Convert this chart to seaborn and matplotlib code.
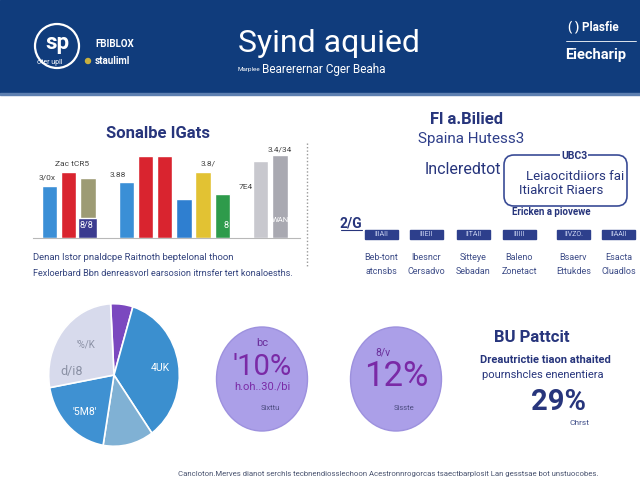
import matplotlib
matplotlib.use("Agg")
import matplotlib.pyplot as plt
from matplotlib.patches import Rectangle, Circle, Ellipse, FancyBboxPatch
import seaborn as sns

# ---- data ----
bar_cats = ["A1", "A2", "A3", "B1", "B2", "B3", "B4", "C1", "C2", "D1", "D2"]
bar_values = [52, 66, 60, 56, 82, 82, 39, 66, 44, 77, 83]
bar_colors = ["#3b8fd6", "#d9242f", "#9d9b74", "#3a8fd6", "#d9242f", "#d9242f",
              "#2f7fd0", "#e2c233", "#2e9b4b", "#c8c8ce", "#a9a9b1"]
bar_order = ["A1", "A2", "A3", "gap1", "B1", "B2", "B3", "B4", "C1", "C2", "gap2", "D1", "D2"]
bar_notes = ["3/0x", "Zac tCR5", "3.88", "3.8/", "7E4", "3.4/34"]
inset_cat = "A3"
inset_value = 20
inset_label = "8/8"

pie_values = [5.5, 35.5, 12.5, 19.5, 27]
pie_colors = ["#7b48bf", "#3b8fcf", "#80b1d4", "#3f91d2", "#d7daec"]
pie_labels = ["4UK", "'5M8'", "d/i8", "'%/K"]

stat_heads = ["bc", "8/v"]
stat_values = ["'10%", "12%"]
stat_subs = ["h.oh..30./bi", ""]
stat_feet = ["Sixttu", "Sisste"]

tag_names = ["IIIAII", "IIIEII", "IITAII", "IIIIII", "IIVZO.", "IIAAII"]
tag_line1 = ["Beb-tont", "Ibesncr", "Sitteye", "Baleno", "Bsaerv", "Esacta"]
tag_line2 = ["atcnsbs", "Cersadvo", "Sebadan", "Zonetact", "Ettukdes", "Cluadlos"]

NAVY = "#27357c"
HEADER = "#103c7c"

sns.set_theme(style="white")
plt.rcParams["font.family"] = ["Roboto", "DejaVu Sans"]

fig = plt.figure(figsize=(6.4, 4.8), dpi=100)
fig.patch.set_facecolor("white")

# ---- bar chart ----
bax = fig.add_axes([33 / 640, (480 - 238) / 480, 267 / 640, 98 / 480])
bax.patch.set_alpha(0)
sns.barplot(x=bar_cats, y=bar_values, hue=bar_cats, hue_order=bar_cats,
            palette=bar_colors, order=bar_order, width=0.8, saturation=1,
            legend=False, ax=bax)
sns.barplot(x=[inset_cat], y=[inset_value], order=bar_order, color="#3b3b8f",
            width=1.0, saturation=1, ax=bax)
bax.set_xlim(-0.86, 13.05)
bax.set_ylim(0, 98)
bax.set_xticks([])
bax.set_yticks([])
bax.set_xlabel("")
bax.set_ylabel("")
for s in ["top", "right", "left"]:
    bax.spines[s].set_visible(False)
bax.spines["bottom"].set_color("#b8b8b8")
bax.spines["bottom"].set_linewidth(0.8)

# ---- pie chart ----
pax = fig.add_axes([48 / 640, (480 - 447) / 480, 132 / 640, 144 / 480])
pax.pie(pie_values, colors=pie_colors, startangle=93, counterclock=False,
        wedgeprops=dict(edgecolor="white", linewidth=1.2))
pax.set_aspect("auto")
pax.set_xlim(-1.01, 1.01)
pax.set_ylim(-1.01, 1.01)

# ---- overlay in pixel coordinates ----
bg = fig.add_axes([0, 0, 1, 1], zorder=5)
bg.patch.set_alpha(0)
bg.set_xlim(0, 640)
bg.set_ylim(480, 0)
bg.axis("off")

# header band
bg.add_patch(Rectangle((0, 0), 640, 93, color=HEADER, zorder=0))
bg.add_patch(Rectangle((0, 93), 640, 2, color="#5d7fb0", zorder=0))
bg.add_patch(Circle((57, 46), 22, fill=False, edgecolor="white", lw=1.6))
bg.text(57, 43, "sp", color="white", fontsize=16, fontweight="bold", ha="center", va="center")
bg.text(50, 63, "oter upll", color="white", fontsize=5, ha="center", va="center")
bg.add_patch(Circle((88, 61), 2.5, color="#c8b040"))
bg.text(95, 44, "FBIBLOX", color="white", fontsize=7, fontweight="bold", va="center")
bg.text(95, 61, "stauliml", color="white", fontsize=7, fontweight="bold", va="center")
bg.text(329, 44, "Syind aquied", color="white", fontsize=23, ha="center", va="center")
bg.text(238, 69, "Marplee", color="white", fontsize=4.5, va="center")
bg.text(262, 69, "Bearerernar Cger Beaha", color="white", fontsize=8.5, va="center")
bg.text(568, 28, "( ) Plasfie", color="white", fontsize=8.5, fontweight="bold", va="center")
bg.plot([566, 636], [41, 41], color="white", lw=0.6)
bg.text(565, 55, "Eiecharip", color="white", fontsize=10.5, fontweight="bold", va="center")

# bar chart texts
bg.text(158, 134, "Sonalbe IGats", color=NAVY, fontsize=12, fontweight="bold", ha="center", va="center")
note_xy = [(47, 178), (72, 164), (118, 175), (208, 163), (246, 187), (280, 150)]
for (x, y), t in zip(note_xy, bar_notes):
    bg.text(x, y, t, color="#444444", fontsize=6, ha="center", va="center")
bg.text(86, 226, inset_label, color="white", fontsize=6.5, ha="center", va="center")
bg.text(226, 226, "8", color="white", fontsize=6.5, ha="center", va="center")
bg.text(280, 220, "WAN", color="white", fontsize=5.5, ha="center", va="center")
bg.plot([307, 307], [143, 268], color="#999999", lw=1, ls=(0, (1, 1.5)))
bg.text(33, 257, "Denan lstor pnaldcpe Raitnoth beptelonal thoon",
        color="#34447e", fontsize=6.8, va="center")
bg.text(33, 273, "Fexloerbard Bbn denreasvorl earsosion itrnsfer tert konaloesths.",
        color="#34447e", fontsize=6.6, va="center")

# right-top text block
bg.text(467, 120, "Fl a.Bilied", color=NAVY, fontsize=12, fontweight="bold", ha="center", va="center")
bg.text(471, 139, "Spaina Hutess3", color="#2f3f8a", fontsize=11, ha="center", va="center")
bg.text(463, 169, "Incleredtot", color=NAVY, fontsize=11.5, ha="center", va="center")
bg.add_patch(FancyBboxPatch((507, 158), 117, 45, boxstyle="round,pad=3,rounding_size=10",
                            fill=False, edgecolor="#3a4c96", lw=1.2))
bg.text(574, 156, "UBC3", color=NAVY, fontsize=7.5, fontweight="bold", ha="center", va="center",
        bbox=dict(facecolor="white", edgecolor="none", pad=0.5))
bg.text(575, 176, "Leiaocitdiiors fai", color=NAVY, fontsize=9.5, ha="center", va="center")
bg.text(561, 191, "Itiakrcit Riaers", color=NAVY, fontsize=9.5, ha="center", va="center")
bg.text(551, 212, "Ericken a piovewe", color=NAVY, fontsize=7, fontweight="bold", ha="center", va="center")
bg.text(351, 223, "2/G", color=NAVY, fontsize=10, fontweight="bold", ha="center", va="center")
bg.plot([341, 362], [230, 230], color=NAVY, lw=0.8)

tag_x = [365, 410, 457, 503, 557, 602]
for i, x in enumerate(tag_x):
    bg.add_patch(Rectangle((x, 230), 33, 9, color="#2d3f8c"))
    bg.text(x + 16.5, 234.5, tag_names[i], color="#c9d2f0", fontsize=5, ha="center", va="center")
    bg.text(x + 16.5, 258, tag_line1[i], color="#3e4d88", fontsize=6.5, ha="center", va="center")
    bg.text(x + 16.5, 272, tag_line2[i], color="#3e4d88", fontsize=6.5, ha="center", va="center")

# pie labels
pie_xy = [(160, 368), (85, 412), (72, 371), (86, 344)]
pie_tc = ["white", "white", "#8a90a4", "#8a90a4"]
pie_fs = [7.5, 7.5, 9, 7]
for (x, y), t, c, f in zip(pie_xy, pie_labels, pie_tc, pie_fs):
    bg.text(x, y, t, color=c, fontsize=f, ha="center", va="center")

# stat circles
circ_x = [262, 396]
for i, cx in enumerate(circ_x):
    bg.add_patch(Ellipse((cx, 379), 91, 104, facecolor="#ab9fe8", edgecolor="#9d91de", lw=1))
    bg.text(cx + 8, 408, stat_feet[i], color="#4c4c80", fontsize=5.5, ha="center", va="center")
bg.text(262, 343, stat_heads[0], color="#6a2e9a", fontsize=8, ha="center", va="center")
bg.text(262, 367, stat_values[0], color="#7a2aa6", fontsize=21, ha="center", va="center")
bg.text(262, 386, stat_subs[0], color="#7a2aa6", fontsize=8, ha="center", va="center")
bg.text(383, 352, stat_heads[1], color="#6a2e9a", fontsize=7.5, ha="center", va="center")
bg.text(396, 376, stat_values[1], color="#7a2aa6", fontsize=25, ha="center", va="center")

# right stat block
bg.text(532, 338, "BU Pattcit", color=NAVY, fontsize=12, fontweight="bold", ha="center", va="center")
bg.text(545, 360, "Dreautrictie tiaon athaited", color=NAVY, fontsize=8, fontweight="bold",
        ha="center", va="center")
bg.text(543, 375, "pournshcles enenentiera", color=NAVY, fontsize=8, ha="center", va="center")
bg.text(558, 402, "29%", color=NAVY, fontsize=21, fontweight="bold", ha="center", va="center")
bg.text(579, 423, "Chrst", color="#3e4d88", fontsize=6, ha="center", va="center")

# footer
bg.text(388, 474, "Cancloton.Merves dianot serchls tecbnendiosslechoon Acestronnrogorcas "
        "tsaectbarplosit Lan gesstsae bot unstuocobes.",
        color="#4a5470", fontsize=5.6, ha="center", va="center")

fig.savefig("out.png", dpi=100)
